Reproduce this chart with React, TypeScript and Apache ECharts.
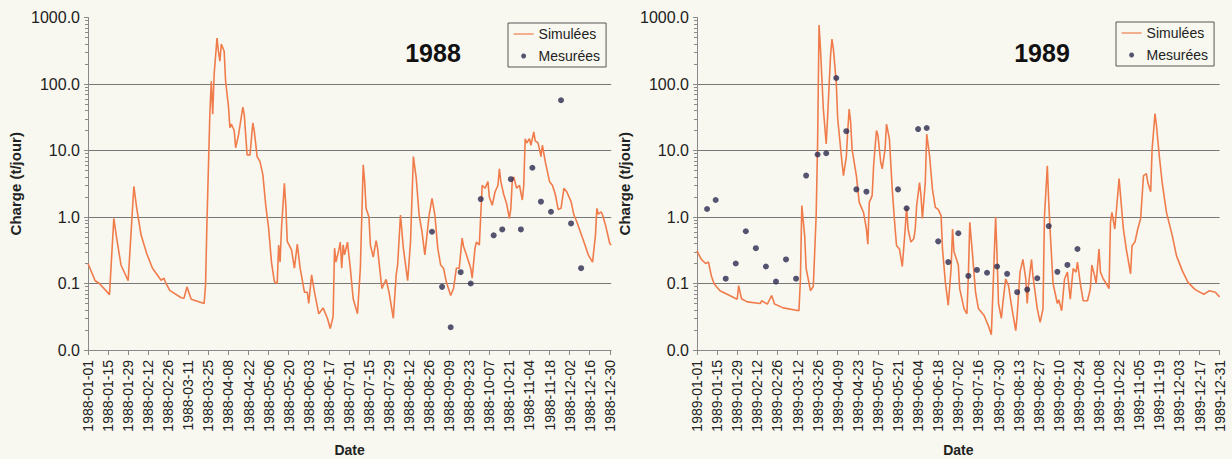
import React, { useEffect, useRef } from "react";
import * as echarts from "echarts";

// ---- DATA ----
// x = day of year (0 = Jan 1), y = charge (t/jour)
const years = [1988, 1989];
const yTickValues = [0.01, 0.1, 1, 10, 100, 1000];

const sim1988: [number, number][] = [
  [0, 0.2], [5, 0.11], [8, 0.1], [15, 0.068], [18, 0.95], [20, 0.48], [23, 0.19], [28, 0.11],
  [32, 2.9], [34, 1.35], [37, 0.54], [41, 0.28], [45, 0.17], [51, 0.112], [53, 0.12], [54, 0.105],
  [57, 0.079], [65, 0.061], [67, 0.06], [69, 0.089], [72, 0.058], [81, 0.05], [82, 0.094], [83, 0.85],
  [85, 35], [86, 110], [87, 35], [88, 140], [90, 490], [91, 310], [92, 220], [93, 400], [95, 310],
  [96, 110], [98, 46], [99, 22], [100, 25], [102, 20], [103, 11], [105, 17], [108, 45], [109, 35],
  [111, 8.6], [113, 8.6], [115, 26], [116, 19.5], [118, 8.1], [120, 6.8], [122, 4.3], [124, 1.5],
  [126, 0.68], [128, 0.21], [130, 0.107], [132, 0.1], [133, 0.38], [134, 0.21], [135, 0.68], [137, 3.2],
  [138, 1.5], [139, 0.43], [142, 0.32], [144, 0.17], [146, 0.39], [148, 0.17], [151, 0.074], [153, 0.074],
  [154, 0.05], [156, 0.135], [158, 0.074], [161, 0.035], [164, 0.043], [167, 0.03], [169, 0.021], [171, 0.032],
  [172, 0.34], [173, 0.21], [175, 0.32], [176, 0.42], [177, 0.17], [178, 0.38], [179, 0.27], [181, 0.42],
  [183, 0.17], [185, 0.059], [188, 0.035], [190, 0.17], [192, 6.1], [193, 3.4], [194, 1.35], [196, 1.0],
  [197, 0.38], [199, 0.25], [201, 0.44], [202, 0.34], [205, 0.084], [208, 0.115], [210, 0.074], [213, 0.03],
  [215, 0.135], [216, 0.19], [218, 1.07], [220, 0.34], [223, 0.11], [225, 0.42], [227, 8.1], [229, 3.8],
  [231, 1.07], [233, 0.6], [235, 0.27], [237, 0.68], [238, 1.07], [240, 1.9], [242, 1.07], [244, 0.34],
  [246, 0.19], [248, 0.17], [250, 0.105], [253, 0.066], [255, 0.084], [257, 0.17], [259, 0.17], [261, 0.48],
  [262, 0.36], [264, 0.27], [267, 0.17], [268, 0.12], [270, 0.34], [271, 0.42], [273, 0.38], [274, 1.07],
  [275, 3.0], [277, 2.7], [279, 3.4], [280, 2.0], [282, 1.5], [284, 2.4], [286, 3.0], [287, 5.3],
  [288, 3.4], [290, 2.2], [292, 1.6], [294, 0.95], [295, 1.35], [296, 3.6], [297, 4.0], [299, 2.7],
  [301, 3.0], [303, 1.8], [304, 3.0], [305, 15], [306, 13], [308, 15], [309, 12], [311, 19], [312, 14],
  [314, 13], [316, 8.1], [317, 12], [319, 6.8], [322, 3.4], [324, 3.0], [326, 2.2], [328, 1.3], [330, 1.35],
  [332, 2.7], [334, 2.4], [337, 1.7], [339, 1.07], [341, 0.85], [346, 0.42], [349, 0.27], [352, 0.21],
  [354, 0.53], [355, 1.35], [356, 1.1], [358, 1.2], [359, 1.07], [361, 0.76], [364, 0.4], [365, 0.38],
];

const meas1988: [number, number][] = [
  [240, 0.6], [247, 0.089], [253, 0.022], [260, 0.148], [267, 0.1], [274, 1.86], [283, 0.53], [289, 0.65],
  [295, 3.7], [302, 0.65], [310, 5.5], [316, 1.7], [323, 1.2], [330, 57], [337, 0.8], [344, 0.17],
];

const sim1989: [number, number][] = [
  [0, 0.31], [3, 0.23], [6, 0.2], [8, 0.21], [10, 0.13], [12, 0.098], [16, 0.078], [21, 0.069],
  [28, 0.058], [29, 0.093], [31, 0.059], [35, 0.053], [44, 0.05], [45, 0.055], [49, 0.049], [52, 0.066],
  [54, 0.049], [60, 0.043], [71, 0.039], [72, 0.11], [73, 1.48], [75, 0.52], [76, 0.17], [79, 0.078],
  [81, 0.09], [83, 1.05], [84, 13], [85, 770], [86, 335], [88, 42], [90, 12.5], [91, 33], [93, 265],
  [94, 475], [95, 335], [97, 105], [98, 30], [101, 6.6], [102, 4.2], [104, 8], [105, 20], [106, 42],
  [107, 27], [108, 10.5], [111, 4.2], [113, 1.66], [116, 1.17], [118, 0.66], [119, 0.39], [120, 1.66],
  [122, 2.1], [123, 5.9], [125, 20], [126, 17], [128, 6.6], [129, 5.3], [131, 10.5], [132, 25], [134, 15],
  [136, 2.6], [138, 0.66], [139, 0.37], [141, 0.33], [143, 0.18], [145, 0.66], [146, 1.4], [147, 0.66],
  [149, 0.42], [151, 0.47], [152, 0.66], [153, 1.48], [155, 3.3], [156, 2.1], [157, 0.95], [159, 3.3],
  [160, 17.7], [162, 8.3], [164, 2.6], [166, 1.4], [168, 1.3], [170, 1.05], [171, 0.33], [173, 0.104],
  [175, 0.047], [177, 0.17], [178, 0.66], [179, 0.3], [180, 0.26], [182, 0.19], [183, 0.083], [186, 0.042],
  [188, 0.035], [189, 0.13], [190, 0.83], [192, 0.26], [194, 0.074], [196, 0.042], [200, 0.033], [203, 0.023],
  [205, 0.017], [206, 0.064], [208, 1.0], [209, 0.26], [210, 0.05], [212, 0.03], [213, 0.05], [215, 0.117],
  [217, 0.093], [219, 0.047], [222, 0.0195], [223, 0.033], [225, 0.148], [227, 0.23], [229, 0.117],
  [230, 0.05], [231, 0.1], [233, 0.23], [234, 0.13], [237, 0.042], [239, 0.026], [241, 0.042], [242, 1.0],
  [244, 5.9], [245, 1.66], [246, 0.6], [248, 0.1], [251, 0.05], [252, 0.057], [254, 0.039], [256, 0.117],
  [258, 0.148], [260, 0.058], [262, 0.168], [264, 0.148], [265, 0.21], [267, 0.1], [269, 0.055], [272, 0.055],
  [274, 0.084], [275, 0.19], [277, 0.13], [278, 0.1], [280, 0.33], [281, 0.148], [283, 0.117], [285, 0.1],
  [287, 0.084], [288, 0.83], [289, 1.17], [291, 0.66], [292, 1.17], [294, 3.8], [295, 2.1], [297, 0.66],
  [299, 0.33], [302, 0.14], [303, 0.37], [305, 0.42], [307, 0.66], [309, 0.95], [311, 4.2], [313, 4.5],
  [314, 3.3], [316, 2.4], [317, 10.5], [319, 36], [320, 24], [322, 8.3], [324, 3.3], [327, 1.17],
  [331, 0.53], [334, 0.26], [338, 0.156], [342, 0.104], [347, 0.081], [353, 0.069], [357, 0.078],
  [361, 0.074], [364, 0.063],
];

const meas1989: [number, number][] = [
  [7, 1.32], [13, 1.8], [20, 0.118], [27, 0.2], [34, 0.61], [41, 0.34], [48, 0.18], [55, 0.107],
  [62, 0.23], [69, 0.118], [76, 4.2], [84, 8.7], [90, 9.1], [97, 123], [104, 19.5], [111, 2.6],
  [118, 2.4], [140, 2.6], [146, 1.35], [154, 21], [160, 21.8], [168, 0.43], [175, 0.21], [182, 0.57],
  [189, 0.13], [195, 0.16], [202, 0.145], [209, 0.18], [216, 0.14], [223, 0.074], [230, 0.081],
  [237, 0.12], [245, 0.73], [251, 0.15], [258, 0.19], [265, 0.33],
];

const seriesNames = ["Simulées", "Mesurées"];
const yAxisTitle = "Charge (t/jour)";
const xAxisTitle = "Date";

// ---- STYLE ----
const FONT = "'Liberation Sans', Arial, Helvetica, sans-serif";
const BG = "#f8f8f0";
const LINE_COLOR = "#f07c4c";
const DOT_COLOR = "#2c2a50";
const AXIS_COLOR = "#8a8a8a";
const GRID_COLOR = "#787878";
const TEXT_COLOR = "#222222";

const dayToDate = (year: number, day: number) => {
  const d = new Date(Date.UTC(year, 0, 1 + Math.round(day)));
  return d.toISOString().slice(0, 10);
};

const panels = [
  { year: years[0], left: 88, width: 523.2, maxDay: 365, sim: sim1988, meas: meas1988, titleX: 433, legendLeft: 508, legendTop: 23 },
  { year: years[1], left: 697, width: 522.6, maxDay: 364, sim: sim1989, meas: meas1989, titleX: 1042, legendLeft: 1116, legendTop: 22 },
];

export default function App() {
  const ref = useRef<HTMLDivElement>(null);

  useEffect(() => {
    if (!ref.current) return;
    const chart = echarts.init(ref.current, undefined, { renderer: "svg" });

    const grid = panels.map((p) => ({
      left: p.left,
      top: 17.5,
      width: p.width,
      height: 332.5,
      containLabel: false,
      outerBoundsMode: "none",
    }));

    const xAxis = panels.map((p, i) => ({
      type: "value",
      gridIndex: i,
      min: 0,
      max: p.maxDay,
      interval: 14,
      name: xAxisTitle,
      nameLocation: "middle",
      nameGap: 93,
      nameTextStyle: { fontFamily: FONT, fontSize: 14, fontWeight: "bold", color: TEXT_COLOR },
      axisLine: { show: true, lineStyle: { color: AXIS_COLOR, width: 1 } },
      axisTick: { show: true, length: 5, lineStyle: { color: AXIS_COLOR } },
      axisLabel: {
        rotate: 90,
        margin: 10,
        fontFamily: FONT,
        fontSize: 14,
        color: TEXT_COLOR,
        showMaxLabel: p.maxDay % 14 === 0,
        formatter: (v: number) => dayToDate(p.year, v),
      },
      splitLine: { show: false },
    }));

    const yAxis = panels.map((p, i) => ({
      type: "log",
      logBase: 10,
      gridIndex: i,
      min: yTickValues[0],
      max: yTickValues[yTickValues.length - 1],
      name: yAxisTitle,
      nameLocation: "middle",
      nameGap: 65,
      nameTextStyle: { fontFamily: FONT, fontSize: 15, fontWeight: "bold", color: TEXT_COLOR },
      axisLine: { show: true, lineStyle: { color: AXIS_COLOR, width: 1 } },
      axisTick: { show: true, length: 4, lineStyle: { color: AXIS_COLOR } },
      minorTick: { show: true, splitNumber: 9, length: 3, lineStyle: { color: AXIS_COLOR } },
      axisLabel: {
        margin: 8,
        fontFamily: FONT,
        fontSize: 16,
        color: TEXT_COLOR,
        formatter: (v: number) => v.toFixed(1),
      },
      splitLine: { show: true, showMinLine: false, showMaxLine: false, lineStyle: { color: GRID_COLOR, width: 1 } },
    }));

    const series: any[] = [];
    panels.forEach((p, i) => {
      series.push({
        type: "line",
        name: seriesNames[0],
        xAxisIndex: i,
        yAxisIndex: i,
        data: p.sim,
        symbol: "none",
        showSymbol: false,
        lineStyle: { color: LINE_COLOR, width: 1.6 },
        itemStyle: { color: LINE_COLOR },
        z: 2,
      });
      series.push({
        type: "scatter",
        name: seriesNames[1],
        xAxisIndex: i,
        yAxisIndex: i,
        data: p.meas,
        symbol: "circle",
        symbolSize: 6,
        itemStyle: { color: DOT_COLOR },
        z: 3,
      });
    });

    const legend = panels.map((p) => ({
      left: p.legendLeft,
      top: p.legendTop,
      orient: "vertical",
      selectedMode: false,
      data: [
        { name: seriesNames[0], itemStyle: { color: "rgba(0,0,0,0)", borderWidth: 0 }, lineStyle: { color: LINE_COLOR, width: 1.2 } },
        { name: seriesNames[1], icon: "circle" },
      ],
      itemWidth: 20,
      itemHeight: 5,
      itemGap: 8,
      padding: [4, 6, 4, 5],
      borderColor: "#555555",
      borderWidth: 1,
      textStyle: { fontFamily: FONT, fontSize: 14, color: TEXT_COLOR },
    }));

    const graphic = panels.map((p) => ({
      type: "text",
      x: p.titleX,
      y: 52.5,
      style: {
        text: String(p.year),
        align: "center",
        verticalAlign: "middle",
        fontFamily: FONT,
        fontSize: 25,
        fontWeight: "bold",
        fill: "#111111",
      },
    }));

    chart.setOption({
      animation: false,
      backgroundColor: BG,
      grid,
      xAxis,
      yAxis,
      legend,
      graphic,
      series,
    });

    return () => chart.dispose();
  }, []);

  return (
    <div
      ref={ref}
      style={{ position: "absolute", left: 0, top: 0, width: 1232, height: 459, background: BG }}
    />
  );
}
